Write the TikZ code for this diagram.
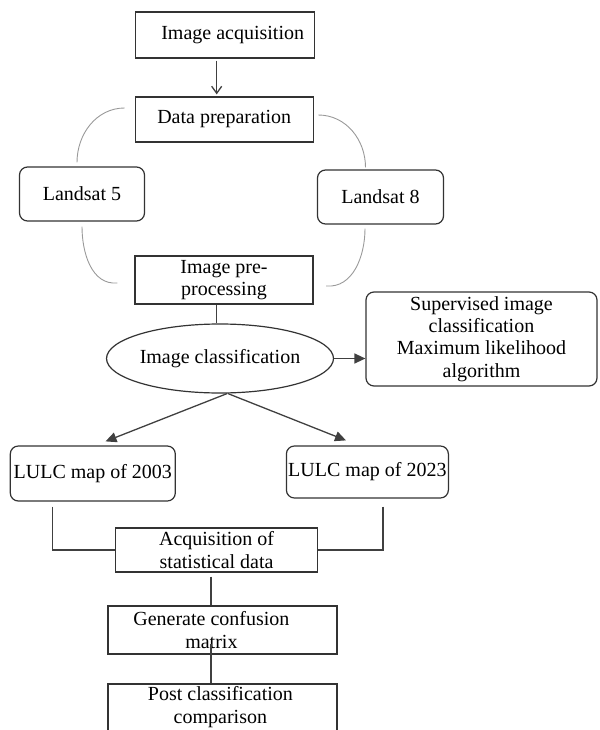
\documentclass[tikz,border=0pt]{standalone}
\usepackage{fontspec}
\setmainfont{Liberation Serif}
\usetikzlibrary{arrows.meta,shapes.geometric}

\begin{document}
\begin{tikzpicture}[x=1pt,y=-1pt,
		every node/.style={font=\fontsize{20}{22.3}\selectfont, inner sep=0pt, align=center},
		box/.style={draw=black!80, line width=1.2pt},
		rbox/.style={box, rounded corners=8pt},
		link/.style={draw=black!75, line width=1.3pt},
		arc/.style={draw=black!40, line width=0.9pt},
		tip/.style={link, -{Triangle[length=11pt,width=10pt]}}]
		\clip (0,0) rectangle (599,730);
		\node[box, minimum width=179pt, minimum height=46pt, label={[xshift=8pt]center:Image acquisition}] (acq) at (224.7,35) {};
		\node[box, minimum width=178pt, minimum height=45pt] (prep) at (224.2,119.5) {Data preparation};
		\node[rbox, minimum width=125pt, minimum height=54pt] (ls5) at (82,194) {Landsat 5};
		\node[rbox, minimum width=126pt, minimum height=54pt] (ls8) at (380.5,197) {Landsat 8};
		\node[box, minimum width=178pt, minimum height=48pt] (pre) at (224,280) {Image pre-\\processing};
		\node[ellipse, box, minimum width=202pt, minimum height=69pt] (cls) at (220,358.5) {Image classification};
		\node[rbox, minimum width=231pt, minimum height=94pt] (sup) at (481.5,339) {Supervised image\\classification\\Maximum likelihood\\algorithm};
		\node[rbox, minimum width=165pt, minimum height=55pt] (l03) at (92.8,473.5) {LULC map of 2003};
		\node[rbox, minimum width=162pt, minimum height=52pt] (l23) at (367.4,472) {LULC map of 2023};
		\node[box, minimum width=202pt, minimum height=44pt] (stat) at (216.6,550) {Acquisition of\\statistical data};
		\node[box, minimum width=229pt, minimum height=48pt, label={[xshift=-11pt]center:Generate confusion\\matrix}] (gen) at (222.4,630) {};
		\node[box, minimum width=229pt, minimum height=52pt, label={[xshift=-2pt,yshift=3pt]center:Post classification\\comparison}] (post) at (222.4,710) {};
		\draw[link, -{Straight Barb[length=7pt,width=10pt]}] ([shift={(-8pt,-2pt)}]acq.south) -- ([shift={(-7.5pt,2pt)}]prep.north);
		\draw[arc] ([shift={(-10pt,11.5pt)}]prep.west) to[out=180,in=90] ([shift={(-5pt,4pt)}]ls5.north);
		\draw[arc] ([shift={(4.5pt,4.5pt)}]prep.east) to[out=0,in=90] ([shift={(-15pt,2pt)}]ls8.north);
		\draw[arc] ([shift={(0pt,-5pt)}]ls5.south) to[out=-90,in=185] ([shift={(-17pt,-3pt)}]pre.west);
		\draw[arc] ([shift={(-15.5pt,-4pt)}]ls8.south) to[out=-90,in=-5] ([shift={(12.5pt,-6pt)}]pre.east);
		\draw[link] ([xshift=-7.4pt]pre.south) -- ([xshift=-7.4pt]pre.south |- cls.north);
		\draw[tip] (cls.east) -- (cls.east -| sup.west);
		\draw[tip] ([xshift=7pt]cls.south) -- ([shift={(12.7pt,4pt)}]l03.north);
		\draw[tip] ([xshift=8pt]cls.south) -- ([shift={(-21.4pt,5pt)}]l23.north);
		\draw[link] ([shift={(-40pt,-5pt)}]l03.south) |- (stat.west);
		\draw[link] ([shift={(15.5pt,-8pt)}]l23.south) |- (stat.east);
		\draw[link] ([shift={(-5.6pt,-4pt)}]stat.south) -- ([xshift=-5.6pt]stat.south |- gen.north);
		\draw[link] ([shift={(-11.4pt,11pt)}]gen.south) -- ([xshift=-11.4pt]gen.south |- post.north);
	\end{tikzpicture}
\end{document}
